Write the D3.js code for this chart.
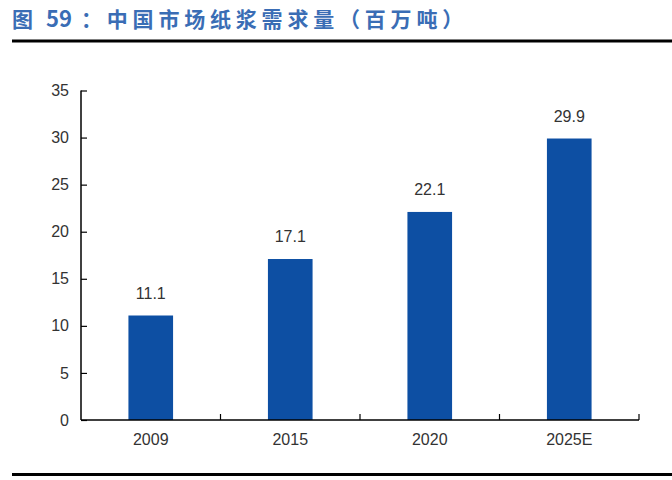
<!DOCTYPE html>
<html><head><meta charset="utf-8">
<script src="https://cdn.jsdelivr.net/npm/d3@7"></script>
<style>body{margin:0;background:#fff}svg{display:block}</style>
</head><body>
<script>
const categories = ["2009","2015","2020","2025E"];
const values = [11.1,17.1,22.1,29.9];
const valueLabels = ["11.1","17.1","22.1","29.9"];
const yTicks = [0,5,10,15,20,25,30,35];
const titleParts = ["图","59","：中国市场纸浆需求量（百万吨）"];

const W=672,H=480;
const svg=d3.select("body").append("svg").attr("width",W).attr("height",H);
const m={l:81,r:33,t:90.5,b:60};
const x=d3.scaleBand().domain(categories).range([m.l,W-m.r]).paddingInner(0.68).paddingOuter(0.34);
const y=d3.scaleLinear().domain([0,35]).range([420,90.5]);
const font="'Liberation Sans', Arial, sans-serif";

const t=svg.append("text").attr("y",27).attr("fill","#3A6DB5")
  .attr("font-family","'Noto Sans CJK SC', sans-serif").attr("font-weight","bold").attr("font-size",21);
t.append("tspan").attr("x",12).text(titleParts[0]);
t.append("tspan").attr("x",46).attr("font-size",22).text(titleParts[1]);
t.append("tspan").attr("x",81).attr("letter-spacing",4.8).text(titleParts[2]);

svg.append("rect").attr("x",12).attr("y",39.5).attr("width",W-12).attr("height",3).attr("fill","#000");
svg.append("rect").attr("x",12).attr("y",473).attr("width",W-12).attr("height",3).attr("fill","#000");

svg.selectAll("rect.bar").data(values).enter().append("rect").attr("class","bar")
  .attr("x",(d,i)=>x(categories[i])).attr("width",x.bandwidth())
  .attr("y",d=>y(d)).attr("height",d=>y(0)-y(d)).attr("fill","#0D4FA3");

svg.selectAll("text.vl").data(values).enter().append("text").attr("class","vl")
  .attr("x",(d,i)=>x(categories[i])+x.bandwidth()/2).attr("y",d=>y(d)-17)
  .attr("text-anchor","middle").attr("font-family",font).attr("font-size",16).attr("fill","#333")
  .text((d,i)=>valueLabels[i]);

const ya=svg.append("g").attr("transform",`translate(${m.l},0)`)
  .call(d3.axisRight(y).tickValues(yTicks).tickSize(6).tickFormat(d3.format("d")));
ya.select(".domain").attr("stroke","#000").attr("stroke-width",1.5).attr("d",`M0,${y(35)}V${y(0)}`);
ya.selectAll(".tick line").attr("stroke","#000").attr("stroke-width",1.2);
ya.selectAll(".tick text").attr("x",-12).attr("text-anchor","end").attr("font-family",font).attr("font-size",16).attr("fill","#333");

const xa=svg.append("g").attr("transform",`translate(0,${y(0)})`)
  .call(d3.axisBottom(x).tickSize(0).tickPadding(14));
xa.select(".domain").attr("stroke","#000").attr("stroke-width",1.5).attr("d",`M${m.l},0H${W-m.r}`);
xa.selectAll(".tick text").attr("font-family",font).attr("font-size",16).attr("fill","#333");
const bounds=d3.range(1,categories.length+1).map(i=>m.l+(W-m.r-m.l)*i/categories.length);
xa.selectAll("line.bt").data(bounds).enter().append("line").attr("class","bt")
  .attr("x1",d=>d).attr("x2",d=>d).attr("y1",0).attr("y2",-6).attr("stroke","#000").attr("stroke-width",1.2);
</script>
</body></html>
